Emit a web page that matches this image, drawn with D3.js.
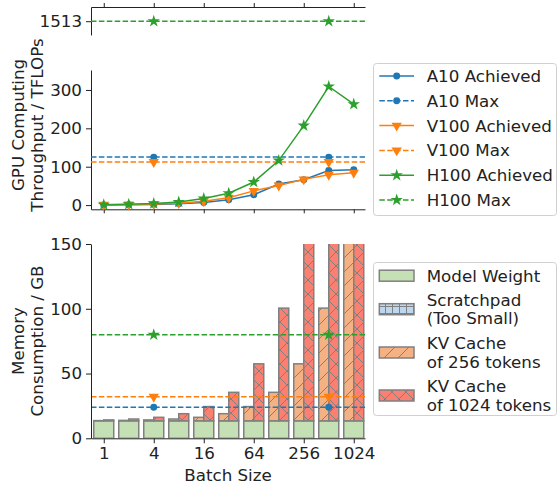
<!DOCTYPE html>
<html>
<head>
<meta charset="utf-8">
<script src="https://cdn.jsdelivr.net/npm/d3@7"></script>
<style>
  body { margin: 0; background: #fff; }
  text { font-family: "DejaVu Sans", sans-serif; }
</style>
</head>
<body>
<div id="chart"></div>
<script>
// Data
var batchLabels = ['1', '2', '4', '8', '16', '32', '64', '128', '256', '512', '1024'];
var tickLabels = ['1', '4', '16', '64', '256', '1024'];
var tickIndex = [0, 2, 4, 6, 8, 10];

var a10Achieved = [0.4, 0.9, 1.7, 3.5, 7, 14, 27, 55, 66, 90, 92];
var v100Achieved = [1, 1.5, 3, 5, 10, 19, 37, 51, 67, 79, 84];
var h100Achieved = [1, 2, 4, 8, 17, 31, 60, 116, 207, 309, 263];
var a10Max = 125, v100Max = 112, h100Max = 1513;
var maxMarkerIdx = [2, 9];

var modelWeight = [13.5, 13.5, 13.5, 13.5, 13.5, 13.5, 13.5, 13.5, 13.5, 13.5, 13.5];
var kv256 = [0.17, 0.34, 0.68, 1.4, 2.7, 5.5, 11, 22, 44, 87, 174];
var kv1024 = [0.7, 1.4, 2.7, 5.5, 11, 22, 44, 87, 174, 348, 696];
var memA10 = 24, memV100 = 32, memH100 = 80;

var blue = '#1f77b4', orange = '#ff7f0e', green = '#2ca02c';
var fs = '16.7px';

var svg = d3.select('#chart').append('svg')
    .attr('width', 557)
    .attr('height', 485);

// patterns
var defs = svg.append('defs');
function hatch(id, fill, d, w, h) {
    var p = defs.append('pattern')
        .attr('id', id)
        .attr('patternUnits', 'userSpaceOnUse')
        .attr('width', w).attr('height', h);
    p.append('rect').attr('width', w).attr('height', h).attr('fill', fill);
    p.append('path').attr('d', d).attr('stroke', '#808080').attr('stroke-width', 1).attr('fill', 'none');
}
hatch('diag', '#f4b183', 'M0,14L14,0M-3.5,3.5L3.5,-3.5M10.5,17.5L17.5,10.5', 14, 14);
hatch('cross', '#fa8072', 'M0,14L14,0M-3.5,3.5L3.5,-3.5M10.5,17.5L17.5,10.5M0,0L14,14M-3.5,10.5L3.5,17.5M10.5,-3.5L17.5,3.5', 14, 14);
hatch('plus', '#bdd7ee', 'M0.5,0V7M0,5.5H7', 7, 7);

// scales
var x = d3.scaleLinear().domain([-0.51, 10.45]).range([91, 365]);
var yTop = d3.scaleLinear().domain([1477, 1550]).range([35, 7]);
var yMid = d3.scaleLinear().domain([-11, 352]).range([209.3, 70]);
var yBot = d3.scaleLinear().domain([0, 150]).range([438.3, 244]);

function styleAxis(a) {
    a.selectAll('path, line').attr('stroke', '#222');
    a.selectAll('text').attr('font-size', fs).attr('fill', '#222')
        .attr('font-family', '"DejaVu Sans", sans-serif');
}

function marker(type, size) {
    return d3.symbol().type(type).size(size)();
}
var mk = {
    a10: {path: marker(d3.symbolCircle, 38), rot: 0},
    v100: {path: marker(d3.symbolTriangle, 46), rot: 180},
    h100: {path: marker(d3.symbolStar, 48), rot: 0}
};

function drawMarkers(g, idx, yfun, color, m) {
    g.selectAll(null).data(idx).enter().append('path')
        .attr('d', m.path)
        .attr('transform', function(d) { return 'translate(' + x(d) + ',' + yfun(d) + ') rotate(' + m.rot + ')'; })
        .attr('fill', color);
}

function maxLine(g, val, yScale, color, m) {
    g.append('line')
        .attr('x1', 91).attr('x2', 365)
        .attr('y1', yScale(val)).attr('y2', yScale(val))
        .attr('stroke', color).attr('stroke-width', 1.5)
        .attr('stroke-dasharray', '5.5,2.4');
    drawMarkers(g, maxMarkerIdx, function() { return yScale(val); }, color, m);
}

function achievedLine(g, vals, color, m) {
    var line = d3.line()
        .x(function(d, i) { return x(i); })
        .y(function(d) { return yMid(d); });
    g.append('path').datum(vals)
        .attr('d', line)
        .attr('fill', 'none').attr('stroke', color).attr('stroke-width', 1.5);
    drawMarkers(g, d3.range(vals.length), function(i) { return yMid(vals[i]); }, color, m);
}

// ---- Top panel (H100 max)
var topAx = svg.append('g').attr('transform', 'translate(0,7)')
    .call(d3.axisTop(x).tickValues(tickIndex).tickFormat('').tickSize(4).tickSizeOuter(0));
styleAxis(topAx);
var topY = svg.append('g').attr('transform', 'translate(91,0)')
    .call(d3.axisLeft(yTop).tickValues([h100Max]).tickFormat(d3.format('d'))
        .tickSize(5).tickPadding(4).tickSizeOuter(0));
styleAxis(topY);
maxLine(svg.append('g'), h100Max, yTop, green, mk.h100);

// ---- Middle panel (throughput)
var midX = svg.append('g').attr('transform', 'translate(0,209.3)')
    .call(d3.axisBottom(x).tickValues(tickIndex).tickFormat('').tickSize(4).tickSizeOuter(0));
styleAxis(midX);
var midY = svg.append('g').attr('transform', 'translate(91,0)')
    .call(d3.axisLeft(yMid).tickValues([0, 100, 200, 300]).tickSize(5).tickPadding(4).tickSizeOuter(0));
styleAxis(midY);

var mid = svg.append('g');
achievedLine(mid, a10Achieved, blue, mk.a10);
maxLine(mid, a10Max, yMid, blue, mk.a10);
achievedLine(mid, v100Achieved, orange, mk.v100);
maxLine(mid, v100Max, yMid, orange, mk.v100);
achievedLine(mid, h100Achieved, green, mk.h100);

svg.append('text')
    .attr('transform', 'translate(18,125) rotate(-90)')
    .attr('text-anchor', 'middle').attr('dy', '0.35em')
    .attr('font-size', fs).attr('fill', '#222')
    .text('GPU Computing');
svg.append('text')
    .attr('transform', 'translate(37,125) rotate(-90)')
    .attr('text-anchor', 'middle').attr('dy', '0.35em')
    .attr('font-size', fs).attr('fill', '#222')
    .text('Throughput / TFLOPs');

// ---- Bottom panel (memory)
defs.append('clipPath').attr('id', 'botclip')
    .append('rect').attr('x', 91).attr('y', 244).attr('width', 274).attr('height', 194.3);

var bars = svg.append('g').attr('clip-path', 'url(#botclip)');
var half = x(0.4) - x(0);

bars.selectAll('.mw').data(modelWeight).enter().append('rect')
    .attr('x', function(d, i) { return x(i) - half; })
    .attr('y', function(d) { return yBot(d); })
    .attr('width', half * 2)
    .attr('height', function(d) { return yBot(0) - yBot(d); })
    .attr('fill', '#c5e0b4').attr('stroke', '#808080').attr('stroke-width', 1.5);

bars.selectAll('.kv256').data(kv256).enter().append('rect')
    .attr('x', function(d, i) { return x(i) - half; })
    .attr('y', function(d, i) { return yBot(modelWeight[i] + d); })
    .attr('width', half)
    .attr('height', function(d, i) { return yBot(modelWeight[i]) - yBot(modelWeight[i] + d); })
    .attr('fill', 'url(#diag)').attr('stroke', '#808080').attr('stroke-width', 1.5);

bars.selectAll('.kv1024').data(kv1024).enter().append('rect')
    .attr('x', function(d, i) { return x(i); })
    .attr('y', function(d, i) { return yBot(modelWeight[i] + d); })
    .attr('width', half)
    .attr('height', function(d, i) { return yBot(modelWeight[i]) - yBot(modelWeight[i] + d); })
    .attr('fill', 'url(#cross)').attr('stroke', '#808080').attr('stroke-width', 1.5);

var bot = svg.append('g');
maxLine(bot, memA10, yBot, blue, mk.a10);
maxLine(bot, memV100, yBot, orange, mk.v100);
maxLine(bot, memH100, yBot, green, mk.h100);

var botX = svg.append('g').attr('transform', 'translate(0,438.3)')
    .call(d3.axisBottom(x).tickValues(tickIndex)
        .tickFormat(function(d, i) { return tickLabels[i]; })
        .tickSize(5).tickPadding(4).tickSizeOuter(0));
styleAxis(botX);
var botY = svg.append('g').attr('transform', 'translate(91,0)')
    .call(d3.axisLeft(yBot).tickValues([0, 50, 100, 150]).tickSize(5).tickPadding(4).tickSizeOuter(0));
styleAxis(botY);

svg.append('text')
    .attr('transform', 'translate(18,341) rotate(-90)')
    .attr('text-anchor', 'middle').attr('dy', '0.35em')
    .attr('font-size', fs).attr('fill', '#222')
    .text('Memory');
svg.append('text')
    .attr('transform', 'translate(37,341) rotate(-90)')
    .attr('text-anchor', 'middle').attr('dy', '0.35em')
    .attr('font-size', fs).attr('fill', '#222')
    .text('Consumption / GB');
svg.append('text')
    .attr('x', 228).attr('y', 481)
    .attr('text-anchor', 'middle')
    .attr('font-size', fs).attr('fill', '#222')
    .text('Batch Size');

// ---- Legends
var leg1 = svg.append('g');
leg1.append('rect')
    .attr('x', 373.5).attr('y', 63.5).attr('width', 183).attr('height', 152)
    .attr('rx', 3).attr('fill', '#fff').attr('stroke', '#d0d0d0');
var leg1Items = [
    {label: 'A10 Achieved', color: blue, m: mk.a10, dash: null},
    {label: 'A10 Max', color: blue, m: mk.a10, dash: '5.5,2.4'},
    {label: 'V100 Achieved', color: orange, m: mk.v100, dash: null},
    {label: 'V100 Max', color: orange, m: mk.v100, dash: '5.5,2.4'},
    {label: 'H100 Achieved', color: green, m: mk.h100, dash: null},
    {label: 'H100 Max', color: green, m: mk.h100, dash: '5.5,2.4'}
];
leg1Items.forEach(function(d, i) {
    var yy = 76 + i * 24.8;
    leg1.append('line')
        .attr('x1', 379.3).attr('x2', 414).attr('y1', yy).attr('y2', yy)
        .attr('stroke', d.color).attr('stroke-width', 1.5)
        .attr('stroke-dasharray', d.dash);
    leg1.append('path').attr('d', d.m.path)
        .attr('transform', 'translate(396.7,' + yy + ') rotate(' + d.m.rot + ')')
        .attr('fill', d.color);
    leg1.append('text')
        .attr('x', 426.7).attr('y', yy).attr('dy', '0.36em')
        .attr('font-size', fs).attr('fill', '#222')
        .text(d.label);
});

var leg2 = svg.append('g');
leg2.append('rect')
    .attr('x', 373.5).attr('y', 262.5).attr('width', 183).attr('height', 153)
    .attr('rx', 3).attr('fill', '#fff').attr('stroke', '#d0d0d0');
var leg2Items = [
    {lines: ['Model Weight'], fill: '#c5e0b4', y: 275.7},
    {lines: ['Scratchpad', '(Too Small)'], fill: 'url(#plus)', y: 309.2},
    {lines: ['KV Cache', 'of 256 tokens'], fill: 'url(#diag)', y: 352.5},
    {lines: ['KV Cache', 'of 1024 tokens'], fill: 'url(#cross)', y: 395.5}
];
leg2Items.forEach(function(d) {
    leg2.append('rect')
        .attr('x', 379.3).attr('y', d.y - 5.5).attr('width', 34.7).attr('height', 11)
        .attr('fill', d.fill).attr('stroke', '#808080').attr('stroke-width', 1.5);
    d.lines.forEach(function(t, j) {
        var yy = d.y + (j - (d.lines.length - 1) / 2) * 18.4;
        leg2.append('text')
            .attr('x', 426.7).attr('y', yy).attr('dy', '0.36em')
            .attr('font-size', fs).attr('fill', '#222')
            .text(t);
    });
});
</script>
</body>
</html>
